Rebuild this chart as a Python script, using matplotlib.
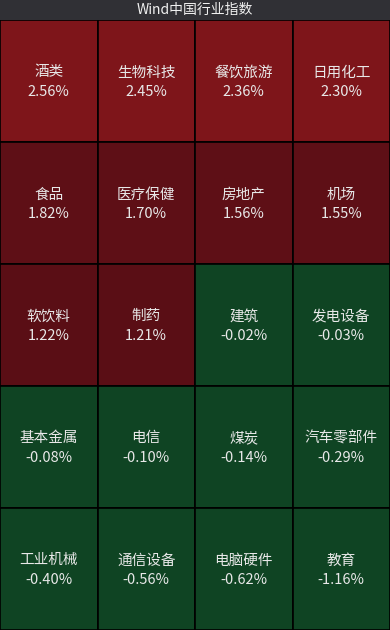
import matplotlib.pyplot as plt
from matplotlib.patches import Rectangle

plt.rcParams['font.family'] = ['Noto Sans CJK SC', 'DejaVu Sans']

title = "Wind中国行业指数"
names = ["酒类", "生物科技", "餐饮旅游", "日用化工",
         "食品", "医疗保健", "房地产", "机场",
         "软饮料", "制药", "建筑", "发电设备",
         "基本金属", "电信", "煤炭", "汽车零部件",
         "工业机械", "通信设备", "电脑硬件", "教育"]
changes = [2.56, 2.45, 2.36, 2.30,
           1.82, 1.70, 1.56, 1.55,
           1.22, 1.21, -0.02, -0.03,
           -0.08, -0.10, -0.14, -0.29,
           -0.40, -0.56, -0.62, -1.16]
ncols = 4


def cell_color(v):
    if v >= 2.0:
        return "#7e151a"
    if v >= 1.5:
        return "#5e0f16"
    if v > 0:
        return "#5a0e15"
    return "#0f4423"


fig = plt.figure(figsize=(3.9, 6.3), dpi=100)
fig.patch.set_facecolor("#303035")

# title bar
fig.text(0.5, 1 - 10 / 630, title, color="#f0f0f0", fontsize=10,
         ha="center", va="center")

ax = fig.add_axes([0, 0, 1, 610 / 630])
nrows = len(names) // ncols
ax.set_xlim(0, ncols)
ax.set_ylim(nrows, 0)
ax.axis("off")

for i, (name, v) in enumerate(zip(names, changes)):
    r, c = divmod(i, ncols)
    ax.add_patch(Rectangle((c, r), 1, 1, facecolor=cell_color(v),
                           edgecolor="black", linewidth=1.2))
    ax.text(c + 0.5, r + 0.5 - 0.07, name, color="#e8e8e8", fontsize=10.5,
            ha="center", va="center")
    ax.text(c + 0.5, r + 0.5 + 0.09, f"{v:.2f}%", color="#e8e8e8",
            fontsize=10.5, ha="center", va="center")

fig.savefig("out.png", dpi=100, facecolor=fig.get_facecolor())
